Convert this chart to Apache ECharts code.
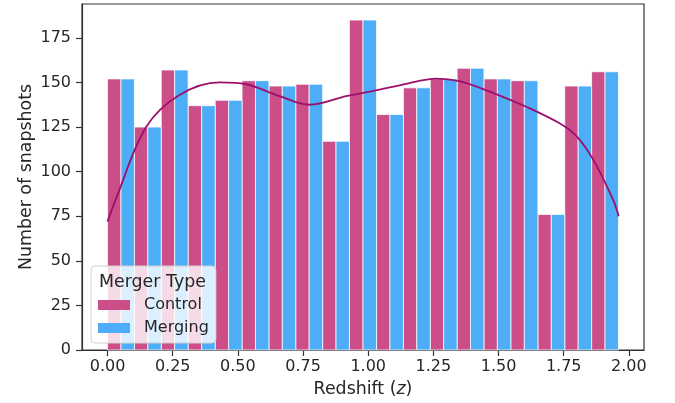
<!DOCTYPE html>
<html>
<head>
<meta charset="utf-8">
<script src="https://cdn.jsdelivr.net/npm/echarts@6/dist/echarts.min.js"></script>
<style>
  html, body { margin: 0; padding: 0; background: #fff; }
  #chart { width: 675px; height: 403px; }
</style>
</head>
<body>
<div id="chart"></div>
<script>
// Histogram bin edges (redshift)
const binEdges = [0, 0.103, 0.206, 0.309, 0.413, 0.516, 0.619, 0.722, 0.825, 0.928,
                  1.032, 1.135, 1.238, 1.341, 1.444, 1.547, 1.651, 1.754, 1.857, 1.96];
// Snapshot counts per bin
const controlCounts = [152, 125, 157, 137, 140, 151, 148, 149, 117, 185,
                       132, 147, 152, 158, 152, 151, 76, 148, 156];
const mergingCounts = [152, 125, 157, 137, 140, 151, 148, 149, 117, 185,
                       132, 147, 152, 158, 152, 151, 76, 148, 156];
// Smoothed density curve (redshift, scaled count)
const kdeZ = [0, 0.033, 0.148, 0.276, 0.43, 0.532, 0.66, 0.775, 0.916, 1.043,
              1.133, 1.261, 1.35, 1.478, 1.606, 1.734, 1.798, 1.862, 1.938, 1.961];
const kdeY = [72, 85, 125, 143, 150, 149, 142.3, 137.5, 142.3, 146,
              148.8, 152.2, 150.7, 144.2, 136.4, 127.1, 120, 107, 84.7, 75];
// Axis ticks
const xTicks = [0, 0.25, 0.5, 0.75, 1.0, 1.25, 1.5, 1.75, 2.0];
const yTicks = [0, 25, 50, 75, 100, 125, 150, 175];

const CONTROL = '#cc4e88';
const MERGING = '#4dadf7';
const LINE = '#9c0f6c';
const INK = '#262626';
const FONT = 'DejaVu Sans';

function binData(counts, half) {
  return counts.map((c, i) => {
    const a = binEdges[i], b = binEdges[i + 1], m = (a + b) / 2;
    return half === 0 ? [a, m, c] : [m, b, c];
  });
}

function renderBar(params, api) {
  const p0 = api.coord([api.value(0), api.value(2)]);
  const p1 = api.coord([api.value(1), 0]);
  return {
    type: 'rect',
    shape: { x: p0[0], y: p0[1], width: p1[0] - p0[0], height: p1[1] - p0[1] },
    style: { fill: api.visual('color'), stroke: 'rgba(255,255,255,0.75)', lineWidth: 1 }
  };
}

const chart = echarts.init(document.getElementById('chart'), null, { renderer: 'canvas' });
chart.setOption({
  animation: false,
  backgroundColor: '#fff',
  textStyle: { fontFamily: FONT },
  grid: { left: 82, right: 31, top: 4, bottom: 51, show: true, borderColor: '#333', borderWidth: 1.2 },
  title: {
    text: 'Merger Type', left: 99, top: 274,
    padding: 0,
    textStyle: { fontFamily: FONT, fontSize: 17.4, fontWeight: 'normal', color: INK }
  },
  legend: {
    orient: 'vertical', left: 91, top: 266,
    padding: [31, 7, 7, 7],
    itemWidth: 32, itemHeight: 10, itemGap: 7,
    icon: 'rect',
    backgroundColor: 'rgba(255,255,255,0.8)',
    borderColor: '#d0d0d0', borderWidth: 1, borderRadius: 4,
    textStyle: { fontFamily: FONT, fontSize: 16, color: INK, padding: [0, 0, 0, 9] },
    data: ['Control', 'Merging']
  },
  xAxis: {
    type: 'value', min: -0.098, max: 2.058,
    name: 'Redshift ({i|z})', nameLocation: 'middle', nameGap: 31, nameMoveOverlap: false,
    nameTextStyle: { fontFamily: FONT, fontSize: 17.4, color: INK, rich: { i: { fontFamily: FONT, fontSize: 17.4, fontStyle: 'italic', color: INK } } },
    splitLine: { show: false },
    axisLine: { show: true, onZero: false, lineStyle: { color: '#333', width: 1.2 } },
    axisTick: { show: true, length: 6, lineStyle: { color: '#333', width: 1.2 }, customValues: xTicks },
    axisLabel: { fontFamily: FONT, fontSize: 16, color: INK, margin: 9, customValues: xTicks,
                 formatter: v => v.toFixed(2) }
  },
  yAxis: {
    type: 'value', min: 0, max: 194,
    name: 'Number of snapshots', nameLocation: 'middle', nameGap: 47, nameMoveOverlap: false,
    nameTextStyle: { fontFamily: FONT, fontSize: 17.4, color: INK },
    splitLine: { show: false },
    axisLine: { show: true, onZero: false, lineStyle: { color: '#333', width: 1.2 } },
    axisTick: { show: true, length: 6, lineStyle: { color: '#333', width: 1.2 }, customValues: yTicks },
    axisLabel: { fontFamily: FONT, fontSize: 16, color: INK, margin: 11, customValues: yTicks }
  },
  series: [
    {
      name: 'Control', type: 'custom', renderItem: renderBar,
      itemStyle: { color: CONTROL },
      encode: { x: [0, 1], y: 2 },
      data: binData(controlCounts, 0), z: 2
    },
    {
      name: 'Merging', type: 'custom', renderItem: renderBar,
      itemStyle: { color: MERGING },
      encode: { x: [0, 1], y: 2 },
      data: binData(mergingCounts, 1), z: 2
    },
    {
      name: 'density', type: 'line', smooth: 0.35, showSymbol: false,
      lineStyle: { color: LINE, width: 1.8 },
      data: kdeZ.map((z, i) => [z, kdeY[i]]), z: 3
    }
  ]
});
</script>
</body>
</html>
